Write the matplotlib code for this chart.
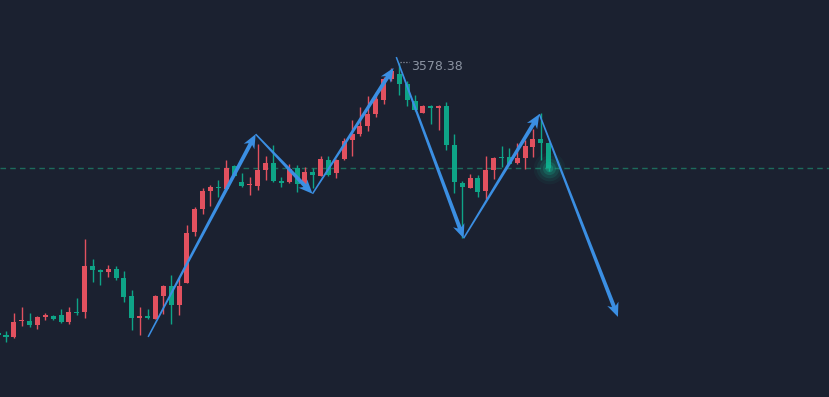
import matplotlib.pyplot as plt
import numpy as np
from matplotlib.patches import Polygon

# daily candles (index -1 is the clipped one at the left edge)
opens = [3309, 3307, 3305, 3320.5, 3321, 3317, 3325, 3326, 3327, 3320, 3330.3,
         3330, 3376, 3372, 3370.3, 3373, 3364, 3346, 3324.3, 3326.3, 3323.3,
         3346.3, 3356, 3337.3, 3359.3, 3409.3, 3433, 3451, 3455, 3453, 3475.3,
         3460, 3456.7, 3456, 3472, 3479, 3461, 3459.3, 3474, 3457.3, 3470,
         3466, 3482, 3468.3, 3482.3, 3501.3, 3508, 3516, 3528, 3542, 3563,
         3568, 3558, 3541, 3529, 3536, 3533.3, 3536, 3497, 3459, 3454,
         3464, 3451, 3472, 3485, 3485, 3479, 3484, 3495, 3503, 3499]
highs = [3311, 3311, 3329, 3335, 3329, 3326, 3329, 3327, 3333, 3335, 3344,
         3403, 3383, 3372.5, 3377, 3376, 3371, 3352, 3335.3, 3333.3, 3346.5,
         3357, 3367, 3364, 3417, 3435, 3454, 3457, 3462, 3482, 3477,
         3469, 3465, 3498, 3486, 3497, 3465, 3478, 3477, 3475, 3474,
         3485.3, 3486, 3483, 3504, 3522, 3535, 3546, 3550, 3565, 3574,
         3578.38, 3561, 3547, 3537, 3536.5, 3537, 3540, 3508, 3461, 3468,
         3467, 3486, 3485, 3496, 3494, 3499, 3502, 3513, 3529, 3499.5]
lows = [3305, 3300, 3304, 3316, 3315, 3313, 3322, 3322, 3319, 3318, 3327,
        3324, 3360, 3357, 3365, 3362, 3340, 3312, 3307.3, 3323.3, 3322.8,
        3328.3, 3318.3, 3327.3, 3359, 3406, 3427.3, 3436, 3445, 3452.5, 3465.5,
        3455, 3447, 3452, 3462, 3460, 3455, 3459, 3449.3, 3454, 3454,
        3465.5, 3465.3, 3463.3, 3481.3, 3485.3, 3505.3, 3511, 3525, 3538, 3561,
        3546.3, 3535.3, 3531, 3528.5, 3518, 3512, 3492, 3448.3, 3404, 3453.5,
        3445, 3443, 3463, 3475, 3477.5, 3478, 3473, 3485, 3482, 3471]
closes = [3307, 3305, 3320, 3321.5, 3317, 3325, 3327, 3323, 3320, 3330, 3329.3,
          3376, 3372, 3370.3, 3373, 3364.3, 3345.3, 3324.3, 3326.3, 3324.3, 3346,
          3356, 3337.3, 3356, 3409, 3433, 3451, 3455, 3453.3, 3474, 3466,
          3455.3, 3457.7, 3472, 3479, 3461, 3459, 3473, 3457.3, 3470, 3467,
          3482.3, 3467, 3482, 3501, 3508, 3516, 3528, 3542.3, 3563, 3571,
          3558, 3541.3, 3531.3, 3536, 3533.3, 3536, 3497, 3459.3, 3454.3, 3464,
          3450, 3472, 3484, 3484, 3478, 3484, 3496, 3503, 3499, 3474]

# hand drawn zigzag (candle index, price)
wave_x = [18.07, 31.74, 38.97, 49.27]
wave_y = [3305, 3507.5, 3448, 3573.7]
wave2_x = [49.62, 58.18, 67.81, 77.8]
wave2_y = [3584.5, 3403.5, 3527.5, 3325]

peak_label = "3578.38"

bg = "#1b2130"
up_col = "#e2515f"
down_col = "#0ea487"
arrow_col = "#3b8fe3"

idx = np.arange(len(opens)) - 1
o = np.array(opens)
c = np.array(closes)

fig = plt.figure(figsize=(8.295, 3.975), dpi=100, facecolor=bg)
ax = fig.add_axes([0, 0, 1, 1])
ax.set_facecolor(bg)
ax.set_xlim(-0.763, 104.7)
ax.set_ylim(3245, 3642)
ax.axis("off")

# last price line
ax.axhline(closes[-1], color="#1d6b5c", lw=1, ls=(0, (4, 3)), zorder=1)

cols = np.where(c >= o, up_col, down_col)
ax.vlines(idx, lows, highs, colors=cols, lw=1, zorder=2)
body = np.maximum(np.abs(c - o), 1.0)
ax.bar(idx, body, bottom=np.minimum(o, c), width=0.64, color=cols,
       linewidth=0, zorder=3)

# glow on last candle
for s, a in [(520, 0.06), (340, 0.09), (200, 0.14), (90, 0.22), (30, 0.35)]:
    ax.scatter(idx[-1], closes[-1], s=s, color="#14b894", alpha=a,
               linewidths=0, zorder=4)

# peak label
ax.plot([idx[51] + 0.1, idx[51] + 1.2], [highs[51] + 1] * 2, color="#8b93a1",
        lw=0.9, ls=(0, (1, 1.3)), zorder=5)
ax.text(idx[51] + 1.45, highs[51] - 2.5, peak_label, color="#8b93a1",
        fontsize=9, va="center", ha="left", zorder=5)


def tapered_arrow(x0, y0, x1, y1, w0=1.5, w1=4.0, head_w=12.0, head_l=14.0):
    # work in pixel space so widths are in pixels
    p0 = ax.transData.transform((x0, y0))
    p1 = ax.transData.transform((x1, y1))
    d = p1 - p0
    u = d / np.hypot(*d)
    n = np.array([-u[1], u[0]])
    barb = p1 - u * head_l
    notch = p1 - u * (head_l * 0.8)
    pts = [p0 + n * w0 / 2, notch + n * w1 / 2, barb + n * head_w / 2, p1,
           barb - n * head_w / 2, notch - n * w1 / 2, p0 - n * w0 / 2]
    pts = ax.transData.inverted().transform(np.array(pts))
    ax.add_patch(Polygon(pts, closed=True, color=arrow_col, lw=0, zorder=6))


for xs, ys in [(wave_x, wave_y), (wave2_x, wave2_y)]:
    for k in range(len(xs) - 1):
        tapered_arrow(xs[k], ys[k], xs[k + 1], ys[k + 1])

fig.savefig("out.png", dpi=100, facecolor=bg)
